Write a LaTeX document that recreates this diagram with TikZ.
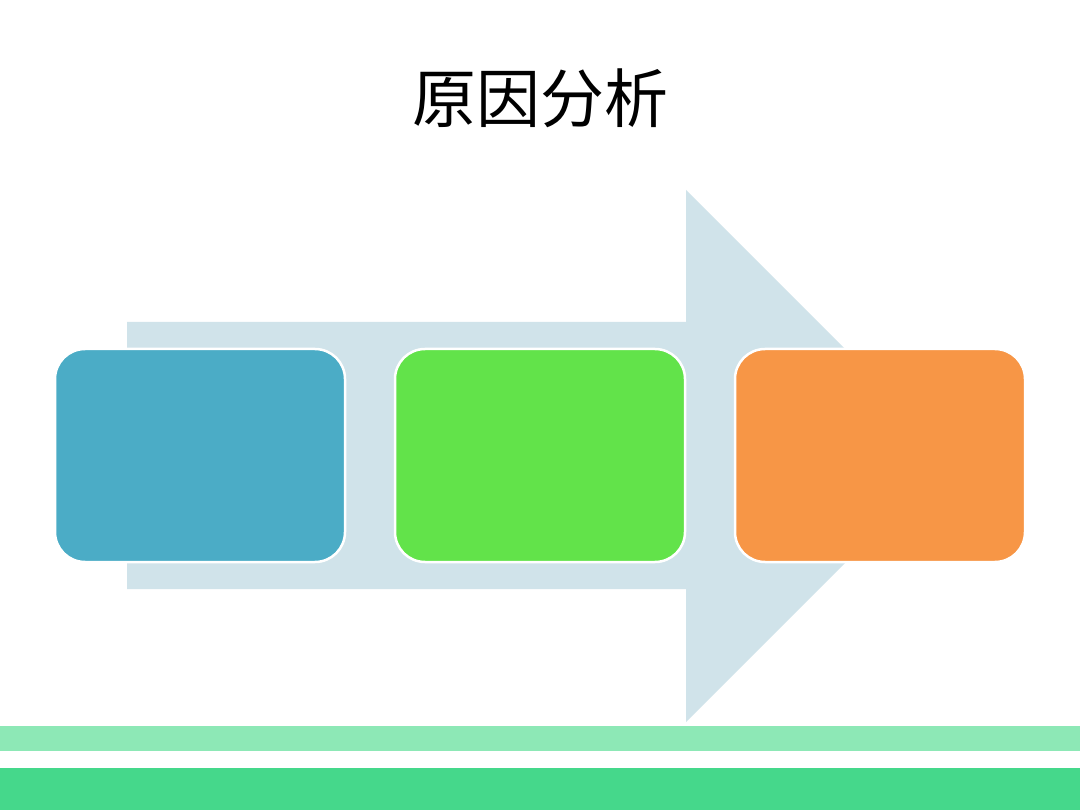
\documentclass[tikz,border=0pt]{standalone}
\usepackage{fontspec}
\newfontfamily\cjk{Noto Sans CJK SC}
\definecolor{arrowc}{HTML}{D0E3EA}
\definecolor{boxblue}{HTML}{4BACC6}
\definecolor{boxgreen}{HTML}{62E34A}
\definecolor{boxorange}{HTML}{F79646}
\definecolor{bandlight}{HTML}{8DE8B6}
\definecolor{banddark}{HTML}{45D88B}
\begin{document}
\begin{tikzpicture}[x=1pt,y=-1pt,
  card/.style={draw=white,line width=2.5pt,rounded corners=30pt,minimum width=290pt,minimum height=213pt,inner sep=0pt},
  title/.style={font=\cjk\fontsize{64}{72}\selectfont,inner sep=0pt}]
\useasboundingbox (0,0) rectangle (1080,810);
\fill[white] (0,0) rectangle (1080,810);
% big arrow
\fill[arrowc] (127,322) -- (686,322) -- (686,190) -- (952,456) -- (686,722) -- (686,589) -- (127,589) -- cycle;
% bands
\fill[bandlight] (0,726) rectangle (1080,751);
\fill[banddark] (0,768) rectangle (1080,810);
% cards
\node[card,fill=boxblue] (b1) at (200,455.5) {};
\node[card,fill=boxgreen] (b2) at (540,455.5) {};
\node[card,fill=boxorange] (b3) at (880,455.5) {};
% title
\node[title] (t) at (540,98) {原因分析};
\end{tikzpicture}
\end{document}
